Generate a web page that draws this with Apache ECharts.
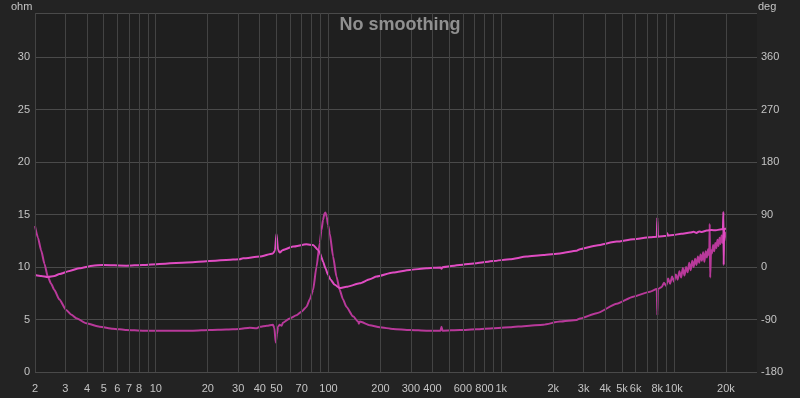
<!DOCTYPE html>
<html>
<head>
<meta charset="utf-8">
<script src="https://cdn.jsdelivr.net/npm/echarts@6/dist/echarts.min.js"></script>
<style>html,body{margin:0;padding:0;background:#232323;}#c{width:800px;height:398px;}</style>
</head>
<body>
<div id="c"></div>
<script>
// Impedance magnitude (ohm) vs frequency (Hz)
const impFreq = [2.0,2.08,2.17,2.27,2.37,2.48,2.59,2.77,3.03,3.25,3.47,3.96,4.73,5.65,6.75,8.43,10.5,16.4,20.5,25.6,30.6,35,38.2,40,44,47.7,48.6,49.5,50.3,51,52.2,53.5,54.5,59.7,65.2,69.7,74.5,77.9,81.4,85.2,89,91,93,94.8,96,97.6,99.4,101.7,106.3,111.2,116.2,121.4,127.1,138.8,148.4,150,152,173.4,198,236.6,295.7,369,445,451,457,576,720,899,1122,1402,1751,2187,2733,2856,3567,4663,5815,7262,7950,8010,8070,8500,8750,9000,9250,9500,9750,10000,10250,10500,10750,11000,11250,11500,11750,12000,12250,12500,12750,13000,13250,13500,13750,14000,14250,14500,14750,15000,15250,15500,15750,16000,16100,16200,16400,16600,16850,17100,17350,17600,17850,18100,18350,18600,18850,19100,19350,19600,19800,20000];
const impedance = [13.9,12.8,11.6,10.3,9.1,8.4,7.8,6.9,5.9,5.45,5.12,4.64,4.32,4.13,4.0,3.94,3.94,3.94,4.0,4.05,4.1,4.22,4.16,4.3,4.4,4.5,4.2,2.8,3.6,4.3,4.5,4.4,4.7,5.1,5.4,5.75,6.2,6.9,7.8,10.0,12.3,13.5,14.5,15.1,15.2,14.8,14.0,13.2,11.0,9.1,7.8,6.9,6.2,5.3,4.8,4.6,4.8,4.45,4.26,4.1,4.0,3.94,3.94,4.3,3.94,4.0,4.07,4.17,4.26,4.39,4.51,4.8,4.96,5.1,5.6,6.5,7.18,7.65,7.9,5.4,7.9,8.1,8.5,8.2,8.9,8.4,9.1,8.6,9.3,8.8,9.6,9.0,9.9,9.2,10.0,9.5,10.4,9.7,10.6,10.0,10.8,10.2,11.0,10.4,11.2,10.6,11.4,10.5,11.5,10.9,11.7,11.1,14.1,9.0,11.6,11.3,12.1,11.5,12.3,11.8,12.6,12.0,12.8,12.2,13.0,12.3,13.2,12.5,13.3,12.8];

// Phase (deg) vs frequency (Hz)
const phaseFreq = [2.0,2.17,2.37,2.59,2.77,3.17,3.62,4.32,4.94,6.75,8.43,10.5,16.4,25.6,30.6,32,40,47.7,49,50,51,52.2,54.5,62.3,74.5,81.4,87,89,91,93,96,99.4,103,108.7,116.2,127.1,151.7,173.4,189.7,236.6,295.7,369,445,451,457,576,720,899,1122,1402,1751,2187,2733,2856,3567,4663,5815,7262,7950,8010,8070,9079,9150,9220,9911,11000,12390,13000,13500,14000,14500,15480,16500,17500,18500,19200,19320,19400,19500,20000];
const phase = [-13.5,-15.3,-17,-15.3,-12,-6.7,-2,2.3,3.6,2.3,3.6,5.4,8.3,12.2,13.3,15,18,23.4,28,57,30,24.7,29.3,35,39,37.8,29.3,25,17,9,-2,-13.5,-22,-30.6,-36,-34,-28,-21,-16.4,-9.5,-5,-2.2,-0.6,-3,-0.4,3.6,6.5,10.4,13.3,18,20.7,23.4,28,30.6,37,43.6,47.7,51,52,84.6,52,53.5,58,53.8,55,57,59,60.5,58.5,61,60,62.5,63.5,63,64.5,65,94.5,3.6,65,66];

// Grid line frequencies and x tick labels
const gridFreqs = [2,3,4,5,6,7,8,9,10,20,30,40,50,60,70,80,90,100,200,300,400,500,600,700,800,900,1000,2000,3000,4000,5000,6000,7000,8000,9000,10000,20000];
const xTickFreqs = [2,3,4,5,6,7,8,10,20,30,40,50,70,100,200,300,400,600,800,1000,2000,3000,4000,5000,6000,8000,10000,20000];
const xTickLabels = ['2','3','4','5','6','7','8','10','20','30','40','50','70','100','200','300','400','600','800','1k','2k','3k','4k','5k','6k','8k','10k','20k'];

const FONT = 'Liberation Sans, Arial, sans-serif';
const chart = echarts.init(document.getElementById('c'), null, {renderer: 'canvas'});

const markData = gridFreqs.map(f => {
  const i = xTickFreqs.indexOf(f);
  return {
    xAxis: f,
    label: i >= 0 ? {show: true, formatter: xTickLabels[i]} : {show: false}
  };
});

chart.setOption({
  animation: false,
  backgroundColor: '#232323',
  title: {
    text: 'No smoothing', left: 'center', top: 11,
    textStyle: {color: '#909090', fontSize: 18, fontWeight: 'bold', fontFamily: FONT}
  },
  graphic: [
    {type: 'text', left: 11, top: 1, style: {text: 'ohm', fill: '#c4c4c4', font: '11px ' + FONT}},
    {type: 'text', left: 758, top: 1, style: {text: 'deg', fill: '#c4c4c4', font: '11px ' + FONT}}
  ],
  grid: {left: 35, right: 43, top: 13, bottom: 26, show: true, backgroundColor: '#1f1f1f', borderWidth: 0},
  xAxis: {
    type: 'log', logBase: 10, min: 2, max: 30240,
    axisLine: {show: false}, axisTick: {show: false}, axisLabel: {show: false}, splitLine: {show: false}
  },
  yAxis: [
    {
      type: 'value', min: 0, max: 34.2, interval: 5, position: 'left',
      axisLine: {show: false}, axisTick: {show: false},
      axisLabel: {color: '#c4c4c4', fontSize: 11, fontFamily: FONT, margin: 5, showMaxLabel: false},
      splitLine: {lineStyle: {color: '#4a4a4a', width: 1}}
    },
    {
      type: 'value', min: -180, max: 435.6, interval: 90, position: 'right',
      axisLine: {show: false}, axisTick: {show: false},
      axisLabel: {color: '#c4c4c4', fontSize: 11, fontFamily: FONT, margin: 4, showMaxLabel: false},
      splitLine: {show: false}
    }
  ],
  series: [
    {
      type: 'line', data: [], z: 1, silent: true,
      markLine: {
        silent: true, symbol: ['none', 'none'], animation: false,
        lineStyle: {color: '#434343', width: 1, type: 'solid'},
        label: {position: 'start', distance: 11, color: '#c4c4c4', fontSize: 11, fontFamily: FONT},
        emphasis: {disabled: true},
        data: markData
      }
    },
    {
      name: 'Impedance', type: 'line', yAxisIndex: 0, z: 3,
      data: impFreq.map((f, i) => [f, impedance[i]]),
      showSymbol: false, smooth: 0.2, smoothMonotone: 'x',
      lineStyle: {color: '#b8399a', width: 2}
    },
    {
      name: 'Phase', type: 'line', yAxisIndex: 1, z: 4,
      data: phaseFreq.map((f, i) => [f, phase[i]]),
      showSymbol: false, smooth: 0.2, smoothMonotone: 'x',
      lineStyle: {color: '#e04cc2', width: 2}
    }
  ]
});
</script>
</body>
</html>
